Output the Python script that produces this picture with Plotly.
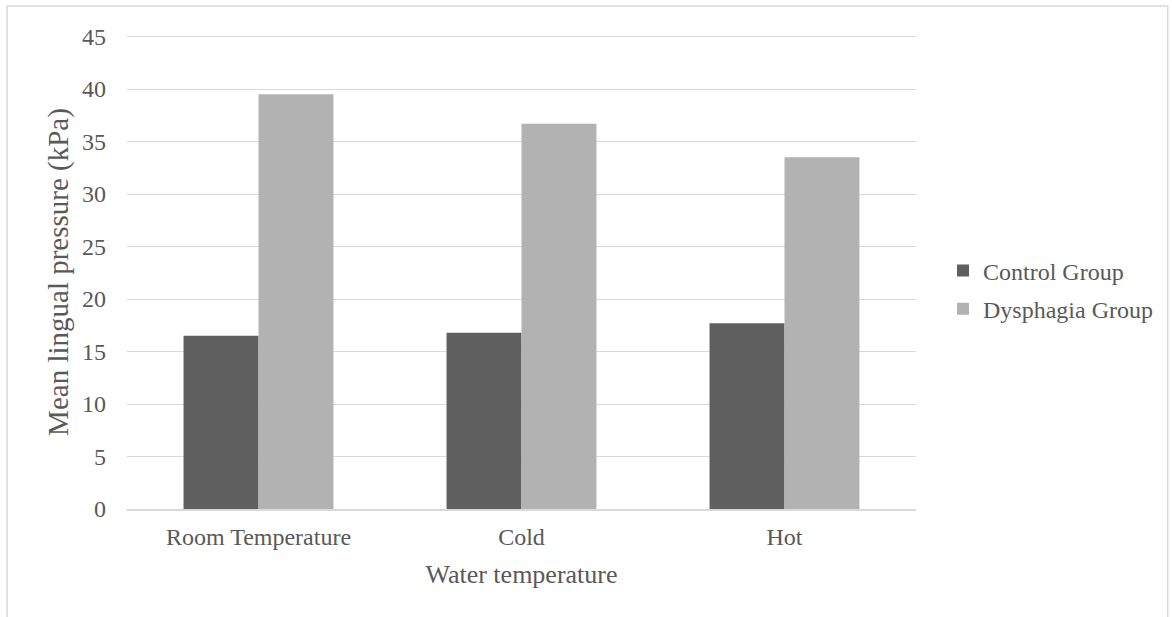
import plotly.graph_objects as go

# Mean lingual pressure by water temperature
categories = ["Room Temperature", "Cold", "Hot"]
control_group = [16.5, 16.8, 17.7]
dysphagia_group = [39.5, 36.7, 33.5]
y_ticks = [0, 5, 10, 15, 20, 25, 30, 35, 40, 45]

FONT = "Liberation Serif, Times New Roman, serif"
TEXT = "#595959"
GRID = "#d9d9d9"

fig = go.Figure()
fig.add_trace(go.Bar(x=categories, y=control_group, name="Control Group",
                     legendgroup="control",
                     marker=dict(color="#5f5f5f", line=dict(width=0))))
fig.add_trace(go.Bar(x=categories, y=dysphagia_group, name="Dysphagia Group",
                     legendgroup="dysphagia",
                     marker=dict(color="#b2b2b2", line=dict(width=0))))

fig.update_layout(
    width=1172, height=617,
    margin=dict(l=127, r=256, t=35, b=108),
    paper_bgcolor="white", plot_bgcolor="white",
    barmode="group", bargap=0.43, bargroupgap=0,
    font=dict(family=FONT, size=24, color=TEXT),
    legend=dict(xref="container", yref="container",
                x=943 / 1172, y=1 - 290 / 617, xanchor="left", yanchor="middle",
                font=dict(family=FONT, size=24, color=TEXT),
                itemwidth=30, traceorder="grouped", tracegroupgap=4,
                bgcolor="rgba(0,0,0,0)"),
    showlegend=True,
)

fig.update_xaxes(
    showgrid=False, showline=True, linecolor=GRID, linewidth=1.5,
    ticks="", ticklabelstandoff=5,
    tickfont=dict(family=FONT, size=24, color=TEXT),
    title=dict(text="Water temperature", font=dict(family=FONT, size=26, color=TEXT), standoff=16),
)
fig.update_yaxes(
    range=[0, 45.15], tickvals=y_ticks, ticktext=[str(v) for v in y_ticks],
    showgrid=True, gridcolor=GRID, gridwidth=1.3, zeroline=False,
    showline=False, ticks="", ticklabelstandoff=20,
    tickfont=dict(family=FONT, size=24, color=TEXT),
    title=dict(text="Mean lingual pressure (kPa)", font=dict(family=FONT, size=29, color=TEXT), standoff=4),
)

# Light frame around the chart area
fig.add_shape(type="rect", xref="paper", yref="paper",
              x0=-0.152, x1=1.319, y0=-0.26, y1=1.061,
              line=dict(color=GRID, width=1.5), fillcolor="rgba(0,0,0,0)", layer="below")

fig.write_html("out.html")
